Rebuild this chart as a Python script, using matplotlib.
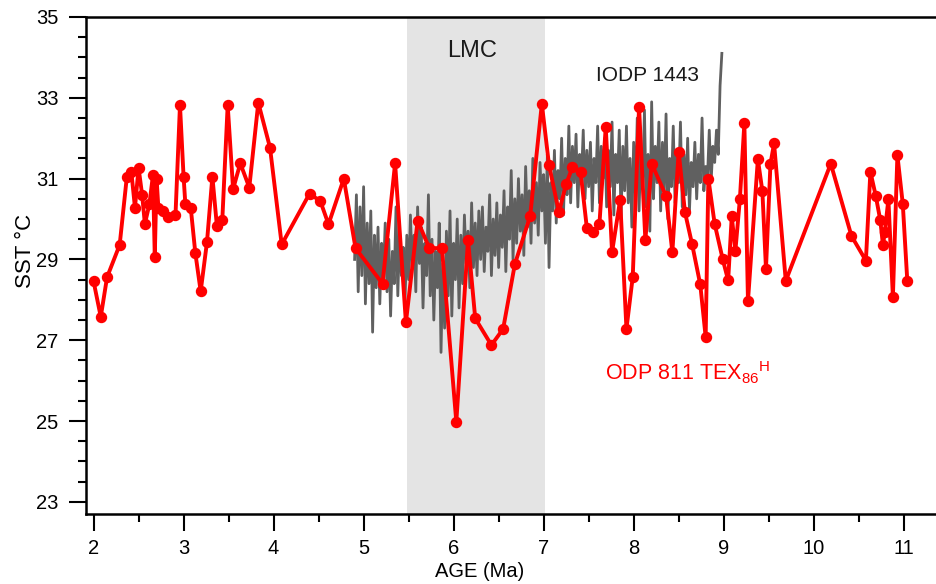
import numpy as np
import matplotlib
matplotlib.use("Agg")
import matplotlib.pyplot as plt
from matplotlib.ticker import MultipleLocator

plt.rcParams['font.family'] = ['Liberation Sans', 'DejaVu Sans']
plt.rcParams['mathtext.fontset'] = 'custom'
plt.rcParams['mathtext.rm'] = 'Liberation Sans'

# ODP 811 TEX86H record
odp_age = [2.00, 2.08, 2.15, 2.29, 2.37, 2.42, 2.46, 2.50, 2.54, 2.57,
           2.62, 2.66, 2.68, 2.70, 2.72, 2.77, 2.83, 2.91, 2.96, 3.00,
           3.02, 3.08, 3.13, 3.19, 3.26, 3.32, 3.37, 3.43, 3.49, 3.55,
           3.63, 3.73, 3.83, 3.96, 4.09, 4.40, 4.52, 4.61, 4.78, 4.91,
           5.21, 5.35, 5.47, 5.60, 5.73, 5.87, 6.03, 6.16, 6.24, 6.42,
           6.55, 6.68, 6.85, 6.98, 7.06, 7.17, 7.25, 7.32, 7.41, 7.48,
           7.55, 7.62, 7.69, 7.76, 7.85, 7.92, 7.99, 8.06, 8.13, 8.20,
           8.36, 8.43, 8.50, 8.57, 8.65, 8.74, 8.80, 8.83, 8.90, 8.99,
           9.05, 9.09, 9.13, 9.18, 9.23, 9.27, 9.38, 9.43, 9.47, 9.52,
           9.56, 9.69, 10.19, 10.42, 10.58, 10.63, 10.69, 10.74, 10.77, 10.79,
           10.83, 10.88, 10.93, 10.99, 11.04]
odp_sst = [28.46, 27.58, 28.56, 29.36, 31.05, 31.16, 30.28, 31.27, 30.59, 29.88,
           30.36, 31.09, 29.06, 31.00, 30.28, 30.20, 30.06, 30.09, 32.82, 31.05,
           30.36, 30.27, 29.17, 28.21, 29.43, 31.05, 29.83, 29.97, 32.82, 30.74,
           31.38, 30.78, 32.88, 31.77, 29.37, 30.63, 30.44, 29.87, 31.00, 29.28,
           28.40, 31.38, 27.44, 29.96, 29.28, 29.28, 24.98, 29.48, 27.54, 26.88,
           27.28, 28.88, 30.07, 32.85, 31.33, 30.17, 30.87, 31.28, 31.17, 29.78,
           29.67, 29.88, 32.28, 29.18, 30.48, 27.28, 28.57, 32.78, 29.48, 31.37,
           30.57, 29.18, 31.67, 30.17, 29.37, 28.38, 27.08, 31.00, 29.88, 29.00,
           28.48, 30.07, 29.21, 30.49, 32.37, 27.97, 31.48, 30.69, 28.77, 31.37,
           31.87, 28.47, 31.37, 29.58, 28.97, 31.17, 30.57, 29.97, 29.35, 29.68,
           30.49, 28.07, 31.58, 30.37, 28.47]

# IODP 1443 record (sampled every 0.02 Ma from 4.90 to 8.98 Ma)
iodp_start, iodp_step = 4.90, 0.02
iodp_sst = [29.0, 30.6, 28.2, 30.3, 28.6, 30.8, 27.9, 29.9, 28.4, 30.2,
            27.2, 29.6, 28.3, 29.8, 27.9, 29.4, 28.6, 29.9, 28.2, 29.5,
            27.6, 29.2, 28.4, 30.3, 28.1, 29.7, 28.6, 29.3, 27.9, 29.6,
            28.5, 30.1, 28.8, 29.6, 28.2, 30.3, 28.9, 29.8, 27.8, 29.4,
            28.6, 30.6, 28.1, 29.5, 27.5, 29.2, 28.3, 29.9, 26.7, 28.9,
            27.3, 29.7, 28.1, 30.2, 27.6, 29.4, 28.5, 30.0, 27.8, 29.6,
            28.4, 30.1, 28.9, 29.7, 28.3, 30.4, 28.8, 29.9, 28.6, 30.2,
            29.0, 30.3, 28.7, 29.8, 29.2, 30.6, 28.6, 30.0, 29.1, 30.4,
            28.8, 30.1, 29.3, 30.7, 28.7, 30.3, 29.5, 31.2, 29.0, 30.5,
            29.4, 31.0, 29.7, 30.6, 29.1, 31.3, 29.8, 30.7, 29.4, 31.5,
            29.9, 30.9, 29.6, 31.4, 30.2, 31.1, 29.4, 31.6, 28.8, 30.9,
            30.2, 31.7, 29.9, 31.2, 30.5, 32.0, 30.1, 31.5, 30.6, 32.3,
            30.4, 31.8, 30.9, 32.1, 30.3, 31.6, 31.0, 32.2, 30.5, 31.7,
            30.8, 31.9, 30.2, 31.5, 30.9, 32.3, 30.4, 31.8, 31.0, 32.0,
            30.3, 31.7, 30.8, 32.4, 30.1, 31.6, 30.9, 32.2, 30.0, 31.8,
            30.7, 32.3, 30.4, 31.5, 29.8, 31.9, 30.6, 32.5, 30.2, 31.7,
            30.8, 32.7, 30.3, 31.6, 29.7, 32.9, 30.5, 31.8, 30.9, 32.4,
            30.2, 31.9, 30.7, 32.6, 30.0, 31.5, 30.8, 32.3, 30.4, 31.7,
            30.9, 32.4, 30.3, 31.6, 30.6, 32.0, 30.2, 31.4, 30.8, 31.9,
            30.5, 31.6, 30.9, 32.5, 30.7, 31.3, 31.0, 32.2, 30.9, 31.8,
            31.4, 32.2, 31.6, 33.3, 34.1]
iodp_age = iodp_start + iodp_step * np.arange(len(iodp_sst))

# LMC shaded interval
lmc_range = (5.48, 7.02)

fig = plt.figure(figsize=(9.37, 5.84), dpi=100)
ax = fig.add_axes([86/937, 1 - 514/584, 1 - 86/937, (514 - 17)/584])

ax.axvspan(lmc_range[0], lmc_range[1], color='#e4e4e4', zorder=0, lw=0)
ax.plot(iodp_age, iodp_sst, color='#606060', lw=2.0, zorder=2)
ax.plot(odp_age, odp_sst, color='#ff0000', lw=2.8, marker='o', ms=7.2, zorder=3)

ax.set_xlim(1.916, 11.37)
ax.set_ylim(22.70, 35.0)

ax.xaxis.set_major_locator(MultipleLocator(1))
ax.xaxis.set_minor_locator(MultipleLocator(0.5))
ax.yaxis.set_minor_locator(MultipleLocator(0.5))
ax.set_yticks([23, 25, 27, 29, 31, 33, 35])

ax.tick_params(axis='both', which='major', direction='out', length=12, width=1.5,
               labelsize=14.5)
ax.tick_params(axis='x', which='major', pad=6)
ax.tick_params(axis='y', which='major', pad=8)
ax.tick_params(axis='both', which='minor', direction='out', length=6, width=1.5)

for s in ['left', 'bottom', 'top']:
    ax.spines[s].set_linewidth(1.8)
ax.spines['right'].set_visible(False)

ax.set_xlabel('AGE (Ma)', fontsize=14.5)
ax.xaxis.set_label_coords((480 - 86) / (937 - 86), -0.097)
ax.set_ylabel('SST °C', fontsize=16)
ax.yaxis.set_label_coords(-0.059, 0.53)

ax.text(6.2, 34.15, 'LMC', fontsize=17, ha='center', va='center', color='#1a1a1a')
ax.text(8.15, 33.55, 'IODP 1443', fontsize=15, ha='center', va='center', color='#1a1a1a')
ax.text(8.6, 26.2, r'ODP 811 TEX$_\mathregular{86}$$^\mathregular{H}$', fontsize=15.5,
        ha='center', va='center', color='#ff0000')

fig.savefig('out.png', dpi=100)
